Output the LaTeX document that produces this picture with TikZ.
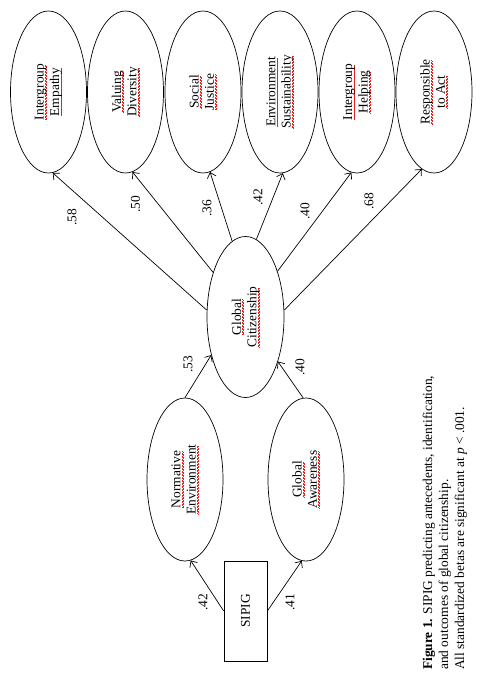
\documentclass[tikz,border=0pt]{standalone}
\usepackage{fontspec}
\setmainfont{Liberation Serif}
\usetikzlibrary{shapes.geometric,arrows.meta}
\definecolor{squig}{RGB}{235,30,30}
\newsavebox\sqbox
\newcommand\sqw[1]{\sbox\sqbox{#1}\rlap{\hbox to \wd\sqbox{\color{squig}\leaders\hbox{\rule[-2.8pt]{0.75pt}{0.6pt}\rule[-2.0pt]{0.75pt}{0.6pt}}\hfill}}\usebox\sqbox}
\tikzset{
  txt/.style={font=\fontsize{13.4bp}{15.4bp}\selectfont},
  oval/.style={ellipse, draw, line width=0.7bp, inner sep=0pt, minimum width=76bp, minimum height=162bp},
  intext/.style={txt, rotate=90, align=center, inner sep=0pt},
  lbl/.style={txt, rotate=90, inner sep=0pt},
  captionline/.style={txt, rotate=90, anchor=base west, inner sep=0pt},
  arr/.style={line width=0.7bp, -{Straight Barb[length=5bp,width=9bp,line width=0.7bp]}},
  boxnode/.style={draw, line width=0.7bp, inner sep=0pt, minimum width=43bp, minimum height=100bp}
}
\begin{document}
\begin{tikzpicture}[x=1bp,y=-1bp]
\useasboundingbox (0,0) rectangle (485,693);
% outcome ellipses
\node[oval] (ie) at (48.5,92) {};
\node[oval] (vd) at (125.5,92) {};
\node[oval] (sj) at (203,92) {};
\node[oval] (es) at (280,92) {};
\node[oval] (ih) at (357,92) {};
\node[oval] (ra) at (434,92) {};
\node[intext] (iet) at (ie.center) {\sqw{Intergroup}\\\sqw{Empathy}};
\node[intext] (vdt) at (vd.center) {\sqw{Valuing}\\\sqw{Diversity}};
\node[intext] (sjt) at (sj.center) {\sqw{Social}\\\sqw{Justice}};
\node[intext] (est) at (es.center) {\sqw{Environment}\\\sqw{Sustainability}};
\node[intext] (iht) at (ih.center) {\sqw{Intergroup}\\\sqw{Helping}};
\node[intext] (rat) at (ra.center) {\sqw{Responsible}\\\sqw{to Act}};
% central
\node[oval, minimum width=77bp, minimum height=161bp] (gc) at (245.5,317) {};
\node[intext] (gct) at (gc.center) {\sqw{Global}\\\sqw{Citizenship}};
% antecedents
\node[oval, minimum height=163bp] (ne) at (185,479.5) {};
\node[oval, minimum height=163bp] (ga) at (306,479.5) {};
\node[intext] (net) at (ne.center) {\sqw{Normative}\\\sqw{Environment}};
\node[intext] (gat) at (ga.center) {\sqw{Global}\\\sqw{Awareness}};
\node[boxnode] (sipig) at (245.5,611) {};
\node[lbl] (sipigt) at (sipig.center) {SIPIG};
% arrows
\draw[arr] (gc.170) -- (ie.-87);
\draw[arr] (gc.126) -- (vd.-85);
\draw[arr] (gc.100) -- (sj.-85);
\draw[arr] (gc.82) -- (es.-88);
\draw[arr] (gc.55) -- (ih.-94);
\draw[arr] (gc.10) -- (ra.-99);
\draw[arr] (ne.north) -- (gc.228);
\draw[arr] (ga.92) -- (gc.-54);
\draw[arr] (sipig.west) -- (ne.-86);
\draw[arr] (sipig.east) -- (ga.-93);
% labels
\node[lbl] (l1) at (72,217) {.58};
\node[lbl] (l2) at (135.5,204) {.50};
\node[lbl] (l3) at (207,208) {.36};
\node[lbl] (l4) at (258,197) {.42};
\node[lbl] (l5) at (305,211) {.40};
\node[lbl] (l6) at (369,201) {.68};
\node[lbl] (l7) at (188,364) {.53};
\node[lbl] (l8) at (300,367) {.40};
\node[lbl] (l9) at (203,602) {.42};
\node[lbl] (l10) at (290,602) {.41};
% caption
\node[captionline] (c1) at (432,670) {\textbf{Figure 1.} SIPIG predicting antecedents, identification,};
\node[captionline] (c2) at (448,670) {and outcomes of global citizenship.};
\node[captionline] (c3) at (464,670) {All standardized betas are significant at \textit{p} < .001.};
\end{tikzpicture}
\end{document}
